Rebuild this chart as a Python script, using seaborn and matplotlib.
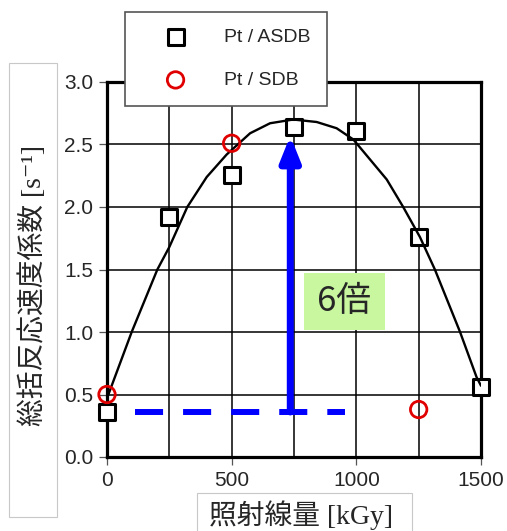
import matplotlib.pyplot as plt
import seaborn as sns
from matplotlib.patches import Rectangle
from matplotlib.ticker import MultipleLocator

# 照射線量 [kGy] と 総括反応速度係数 [s-1]
dose_asdb = [0, 250, 500, 750, 1000, 1250, 1500]
k_asdb = [0.36, 1.92, 2.26, 2.64, 2.61, 1.76, 0.56]
dose_sdb = [0, 500, 1250]
k_sdb = [0.50, 2.51, 0.38]

# fitted curve
fit_dose = [0, 99, 202, 250, 322, 400, 480, 574, 654, 747, 841, 921, 988, 1055,
            1122, 1188, 1255, 1315, 1416, 1482, 1500]
fit_k = [0.47, 1.00, 1.50, 1.68, 2.00, 2.24, 2.42, 2.59, 2.67, 2.70, 2.68, 2.63, 2.54, 2.38,
         2.22, 2.00, 1.76, 1.50, 1.00, 0.64, 0.57]

base_level = 0.36
ratio_label = "6倍"

sns.set_style("ticks")
plt.rcParams["font.family"] = ["Liberation Sans", "Noto Sans CJK JP", "DejaVu Sans"]
mixed = ["Liberation Serif", "Noto Sans CJK JP", "DejaVu Sans"]

W, H = 507, 531
fig = plt.figure(figsize=(W / 100, H / 100), dpi=100)
ax = fig.add_axes([107 / W, 74 / H, 374 / W, 375 / H])

ax.set_xlim(0, 1500)
ax.set_ylim(0, 3.0)
ax.xaxis.set_major_locator(MultipleLocator(500))
ax.xaxis.set_minor_locator(MultipleLocator(250))
ax.yaxis.set_major_locator(MultipleLocator(0.5))
ax.yaxis.set_major_formatter(plt.FormatStrFormatter("%.1f"))
ax.grid(True, which="both", axis="x", color="black", lw=1.1)
ax.grid(True, which="major", axis="y", color="black", lw=1.1)
ax.tick_params(which="major", direction="out", length=6, width=0.9, color="#555555",
               labelsize=15, pad=4)
ax.tick_params(which="minor", length=0)
for s in ax.spines.values():
    s.set_linewidth(2.3)
    s.set_color("black")
ax.set_axisbelow(True)

# fitted curve
sns.lineplot(x=fit_dose, y=fit_k, ax=ax, color="black", lw=1.7, zorder=4)

# data points
sns.scatterplot(x=dose_asdb, y=k_asdb, ax=ax, marker="s", s=140, facecolor="white",
                edgecolor="black", linewidth=2.2, zorder=3, label="Pt / ASDB", clip_on=False)
sns.scatterplot(x=dose_sdb, y=k_sdb, ax=ax, marker="o", s=140, facecolor="none",
                edgecolor="#e00000", linewidth=2.0, zorder=5, label="Pt / SDB", clip_on=False)

# baseline and arrow
ax.plot([112, 955], [base_level, base_level], color="#0000ff", lw=4.3,
        linestyle=(0, (4.7, 3.35)), dash_capstyle="butt", zorder=6)
ax.annotate("", xy=(735, 2.57), xytext=(735, base_level),
            arrowprops=dict(arrowstyle="-|>,head_length=0.75,head_width=0.3",
                            color="#0000ff", lw=5, mutation_scale=20,
                            shrinkA=0, shrinkB=0),
            zorder=6)
ax.add_patch(Rectangle((790, 1.016), 325, 0.456, facecolor="#c8f7a0",
                       edgecolor="none", zorder=6))
ax.text(952, 1.24, ratio_label, fontsize=25, ha="center", va="center",
        family=["Noto Sans CJK JP", "DejaVu Sans"], zorder=7)

handles, labels = ax.get_legend_handles_labels()
ax.get_legend().remove()
leg = fig.legend(handles, labels, loc="upper left",
                 bbox_to_anchor=(125 / W, 1 - 12 / H), borderaxespad=0,
                 fontsize=14, frameon=True, fancybox=False, borderpad=0.85,
                 handlelength=3.5, handletextpad=0.75, labelspacing=1.3)
leg.get_frame().set_edgecolor("#555555")
leg.get_frame().set_linewidth(1.2)
leg.get_frame().set_alpha(1)

# axis label boxes
fig.patches.append(Rectangle((9 / W, 1 - 517 / H), 48 / W, 454 / H, transform=fig.transFigure,
                             facecolor="white", edgecolor="#c8c8c8", lw=0.8, zorder=0))
fig.patches.append(Rectangle((197 / W, 1 - 540 / H), 215 / W, 47 / H, transform=fig.transFigure,
                             facecolor="white", edgecolor="#c8c8c8", lw=0.8, zorder=0))
fig.text(33 / W, 1 - 285 / H, "総括反応速度係数 [s⁻¹]", rotation=90, fontsize=20,
         ha="center", va="center", family=mixed)
fig.text(301 / W, 1 - 515 / H, "照射線量 [kGy]", fontsize=20,
         ha="center", va="center", family=mixed)

fig.savefig("out.png", dpi=100)
